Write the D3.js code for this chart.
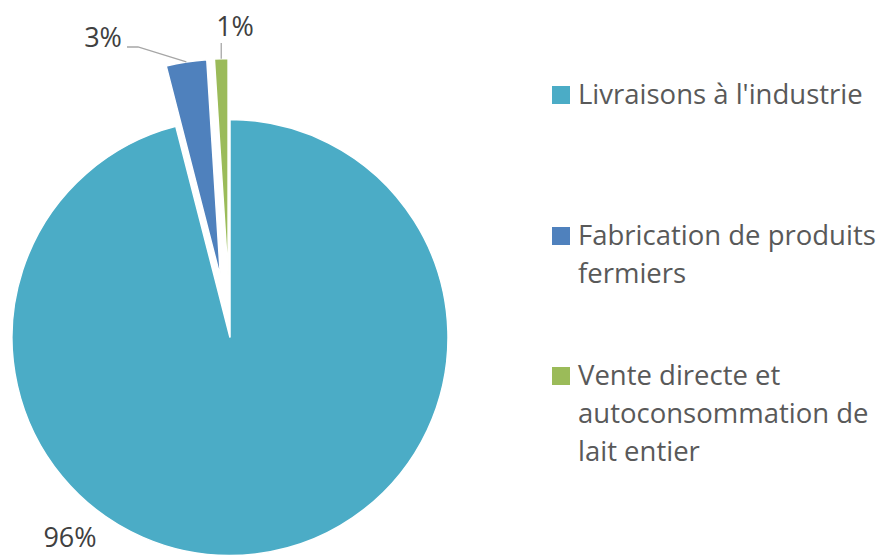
<!DOCTYPE html>
<html>
<head>
  <meta charset="utf-8">
  <title>Utilisation du lait</title>
  <script src="https://d3js.org/d3.v7.min.js"></script>
  <style>
    body { margin: 0; background: #fff; }
    svg { display: block; font-family: "Open Sans", sans-serif; }
  </style>
</head>
<body>
  <div id="chart"></div>
  <script>
    // data
    var categories = ["Livraisons à l'industrie", "Fabrication de produits fermiers", "Vente directe et autoconsommation de lait entier"];
    var values = [96, 3, 1];
    var pctLabels = ["96%", "3%", "1%"];
    var legendLines = [["Livraisons à l'industrie"], ["Fabrication de produits", "fermiers"], ["Vente directe et", "autoconsommation de", "lait entier"]];
    var colors = ["#4BACC6", "#4F81BD", "#9BBB59"];

    var width = 884, height = 555;
    var cx = 230, cy = 337.5, radius = 218;
    var explode = [0, 61, 61];
    // label centres relative to pie centre
    var labelPos = [[-160, 199.5], [-127, -300], [5, -311]];

    var svg = d3.select("#chart").append("svg")
      .attr("width", width)
      .attr("height", height);

    var pie = d3.pie().sort(null).value(function(d) { return d; });
    var arcs = pie(values);
    var arc = d3.arc().innerRadius(0).outerRadius(radius);

    function offset(d, i) {
      var a = (d.startAngle + d.endAngle) / 2;
      return [Math.sin(a) * explode[i], -Math.cos(a) * explode[i]];
    }

    var g = svg.append("g").attr("transform", "translate(" + cx + "," + cy + ")");

    g.selectAll("path.slice")
      .data(arcs)
      .enter()
      .append("path")
        .attr("class", "slice")
        .attr("d", arc)
        .attr("transform", function(d, i) { var o = offset(d, i); return "translate(" + o[0] + "," + o[1] + ")"; })
        .style("fill", function(d, i) { return colors[i]; })
        .style("stroke", "#fff")
        .style("stroke-width", 1.5);

    // leader lines for the small slices
    arcs.forEach(function(d, i) {
      if (i === 0) return;
      var a = (d.startAngle + d.endAngle) / 2;
      var o = offset(d, i);
      var sx = o[0] + Math.sin(a) * radius, sy = o[1] - Math.cos(a) * radius;
      var lx = labelPos[i][0], ly = labelPos[i][1];
      var pts;
      if (i === 1) {
        pts = [[sx, sy], [lx + 35, ly + 9.5], [lx + 24, ly + 9.5]];
      } else {
        pts = [[sx, sy], [sx, ly + 16.5]];
      }
      g.append("path")
        .attr("d", d3.line()(pts))
        .style("fill", "none")
        .style("stroke", "#A6A6A6")
        .style("stroke-width", 1.3);
    });

    g.selectAll("text.pct")
      .data(arcs)
      .enter()
      .append("text")
        .attr("class", "pct")
        .attr("x", function(d, i) { return labelPos[i][0]; })
        .attr("y", function(d, i) { return labelPos[i][1]; })
        .attr("dy", "0.36em")
        .attr("text-anchor", "middle")
        .style("font-size", "27px")
        .style("fill", "#404040")
        .text(function(d, i) { return pctLabels[i]; });

    // legend
    var legendY = [104, 245, 385];
    var legend = svg.append("g");
    categories.forEach(function(c, i) {
      legend.append("rect")
        .attr("x", 552)
        .attr("y", legendY[i] - 18)
        .attr("width", 18)
        .attr("height", 18)
        .style("fill", colors[i]);
      var t = legend.append("text")
        .attr("x", 578)
        .attr("y", legendY[i])
        .style("font-size", "27.5px")
        .style("fill", "#595959");
      legendLines[i].forEach(function(line, j) {
        t.append("tspan")
          .attr("x", 578)
          .attr("dy", j === 0 ? 0 : 38)
          .text(line);
      });
    });
  </script>
</body>
</html>
